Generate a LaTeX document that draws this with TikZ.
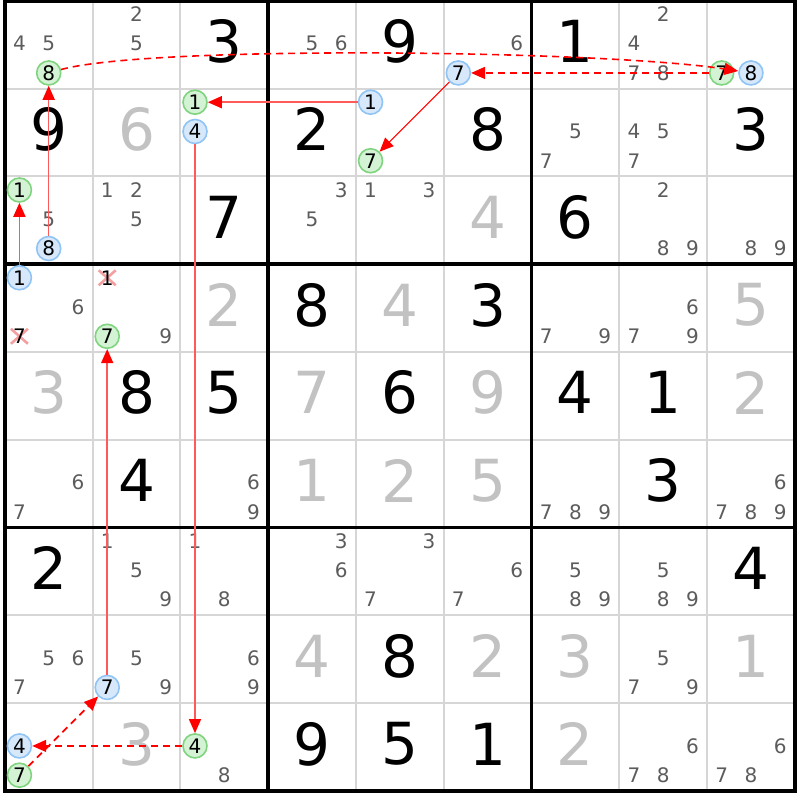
\documentclass[tikz,border=0pt]{standalone}
\usepackage{fontspec}
\setmainfont{DejaVu Sans}
\usetikzlibrary{arrows.meta}
\definecolor{candgray}{HTML}{5C5C5C}
\definecolor{solvedgray}{HTML}{C2C2C2}
\definecolor{thingray}{HTML}{D6D6D6}
\definecolor{gfill}{HTML}{D4F2D4}
\definecolor{gdraw}{HTML}{80D480}
\definecolor{bfill}{HTML}{D6E8FA}
\definecolor{bdraw}{HTML}{90C4F5}
\definecolor{xred}{HTML}{F4A0A0}
\definecolor{linkred}{HTML}{FF0000}
\definecolor{solidred}{HTML}{FF5A5A}
\def\SZ{87.78}
\def\gx{4.8}
\def\gy{0.8}
\newcommand\cnd[4][cand]{\node[#1] (n#2#3#4) at ({\gx+(#3-1)*\SZ+(mod(#4-1,3)+0.5)*\SZ/3},{\gy+(#2-1)*\SZ+(floor((#4-1)/3)+0.5)*\SZ/3-1}) {#4};}
\newcommand\xcnd[3]{\coordinate (p#1#2#3) at ({\gx+(#2-1)*\SZ+(mod(#3-1,3)+0.5)*\SZ/3},{\gy+(#1-1)*\SZ+(floor((#3-1)/3)+0.5)*\SZ/3-1});
\draw[xred, line width=2.6pt] ([shift={(-8.5,-7.5)}]p#1#2#3) -- ([shift={(8.5,7.5)}]p#1#2#3) ([shift={(-8.5,7.5)}]p#1#2#3) -- ([shift={(8.5,-7.5)}]p#1#2#3);
\node[cand, text=black] (n#1#2#3) at (p#1#2#3) {#3};}
\newcommand\bigd[4][given]{\node[#1] (v#2#3) at ({\gx+(#3-0.5)*\SZ},{\gy+(#2-0.5)*\SZ-3}) {#4};}
\begin{document}
\begin{tikzpicture}[x=1pt,y=-1pt,
  cand/.style={inner sep=0pt, text=candgray, font=\fontsize{20}{20}\selectfont},
  gcand/.style={cand, text=black, circle, draw=gdraw, fill=gfill, line width=1.6pt, minimum size=24pt},
  bcand/.style={cand, text=black, circle, draw=bdraw, fill=bfill, line width=1.6pt, minimum size=24pt},
  given/.style={inner sep=0pt, text=black, font=\fontsize{58}{58}\selectfont},
  solved/.style={given, text=solvedgray},
  slink/.style={draw=solidred, line width=1.5pt, -{Triangle[length=14pt,width=12pt,color=linkred]}},
  dlink/.style={draw=linkred, line width=1.6pt, dash pattern=on 7pt off 5pt, -{Triangle[length=14pt,width=12pt,color=linkred]}},
  thinline/.style={draw=thingray, line width=2pt},
  thickline/.style={draw=black, line width=3.5pt}]
\useasboundingbox (0,0) rectangle (800,800);
\fill[white] (0,0) rectangle (800,800);
% grid
\foreach \i in {1,2,4,5,7,8} {
  \draw[thinline] ({\gx+\i*\SZ},\gy) -- ({\gx+\i*\SZ},{\gy+9*\SZ});
  \draw[thinline] (\gx,{\gy+\i*\SZ}) -- ({\gx+9*\SZ},{\gy+\i*\SZ});
}
\foreach \i in {0,3,6,9} {
  \draw[thickline] ({\gx+\i*\SZ},{\gy-1.7}) -- ({\gx+\i*\SZ},{\gy+9*\SZ+1.7});
  \draw[thickline] ({\gx-1.7},{\gy+\i*\SZ}) -- ({\gx+9*\SZ+1.7},{\gy+\i*\SZ});
}
% given digits
\foreach \r/\c/\d in {1/3/3,1/5/9,1/7/1,2/1/9,2/4/2,2/6/8,2/9/3,3/3/7,3/7/6,4/4/8,4/6/3,
  5/2/8,5/3/5,5/5/6,5/7/4,5/8/1,6/2/4,6/8/3,7/1/2,7/9/4,8/5/8,9/4/9,9/5/5,9/6/1} {\bigd{\r}{\c}{\d}}
% solved digits
\foreach \r/\c/\d in {2/2/6,3/6/4,4/3/2,4/5/4,4/9/5,5/1/3,5/4/7,5/6/9,5/9/2,6/4/1,6/5/2,6/6/5,
  8/4/4,8/6/2,8/7/3,8/9/1,9/2/3,9/7/2} {\bigd[solved]{\r}{\c}{\d}}
% plain candidates
\foreach \r/\c/\d in {1/1/4,1/1/5,1/2/2,1/2/5,1/4/5,1/4/6,1/6/6,1/8/2,1/8/4,1/8/7,1/8/8,
  2/7/5,2/7/7,2/8/4,2/8/5,2/8/7,
  3/1/5,3/2/1,3/2/2,3/2/5,3/4/3,3/4/5,3/5/1,3/5/3,3/8/2,3/8/8,3/8/9,3/9/8,3/9/9,
  4/1/6,4/2/9,4/7/7,4/7/9,4/8/6,4/8/7,4/8/9,
  6/1/6,6/1/7,6/3/6,6/3/9,6/7/7,6/7/8,6/7/9,6/9/6,6/9/7,6/9/8,6/9/9,
  7/2/1,7/2/5,7/2/9,7/3/1,7/3/8,7/4/3,7/4/6,7/5/3,7/5/7,7/6/6,7/6/7,7/7/5,7/7/8,7/7/9,7/8/5,7/8/8,7/8/9,
  8/1/5,8/1/6,8/1/7,8/2/5,8/2/9,8/3/6,8/3/9,8/8/5,8/8/7,8/8/9,
  9/3/8,9/8/6,9/8/7,9/8/8,9/9/6,9/9/7,9/9/8} {\cnd{\r}{\c}{\d}}
% eliminated candidates
\xcnd{4}{1}{7}
\xcnd{4}{2}{1}
% green candidates
\foreach \r/\c/\d in {1/1/8,1/9/7,2/3/1,2/5/7,3/1/1,4/2/7,9/1/7,9/3/4} {\cnd[gcand]{\r}{\c}{\d}}
% blue candidates
\foreach \r/\c/\d in {1/6/7,1/9/8,2/3/4,2/5/1,3/1/8,4/1/1,8/2/7,9/1/4} {\cnd[bcand]{\r}{\c}{\d}}
% links
\draw[dlink] (n118) .. controls (150,45) and (600,50) .. (n198);
\draw[dlink] (n197) -- (n167);
\draw[slink, line width=1.1pt, draw=linkred] (n167) -- (n257);
\draw[slink] (n251) -- (n231);
\draw[slink] (n234) -- (n934);
\draw[dlink] (n934) -- (n914);
\draw[dlink] (n917) -- (n827);
\draw[slink] (n827) -- (n427);
\draw[slink] (n411) -- (n311);
\draw[slink] (n318) -- (n118);
\end{tikzpicture}
\end{document}
